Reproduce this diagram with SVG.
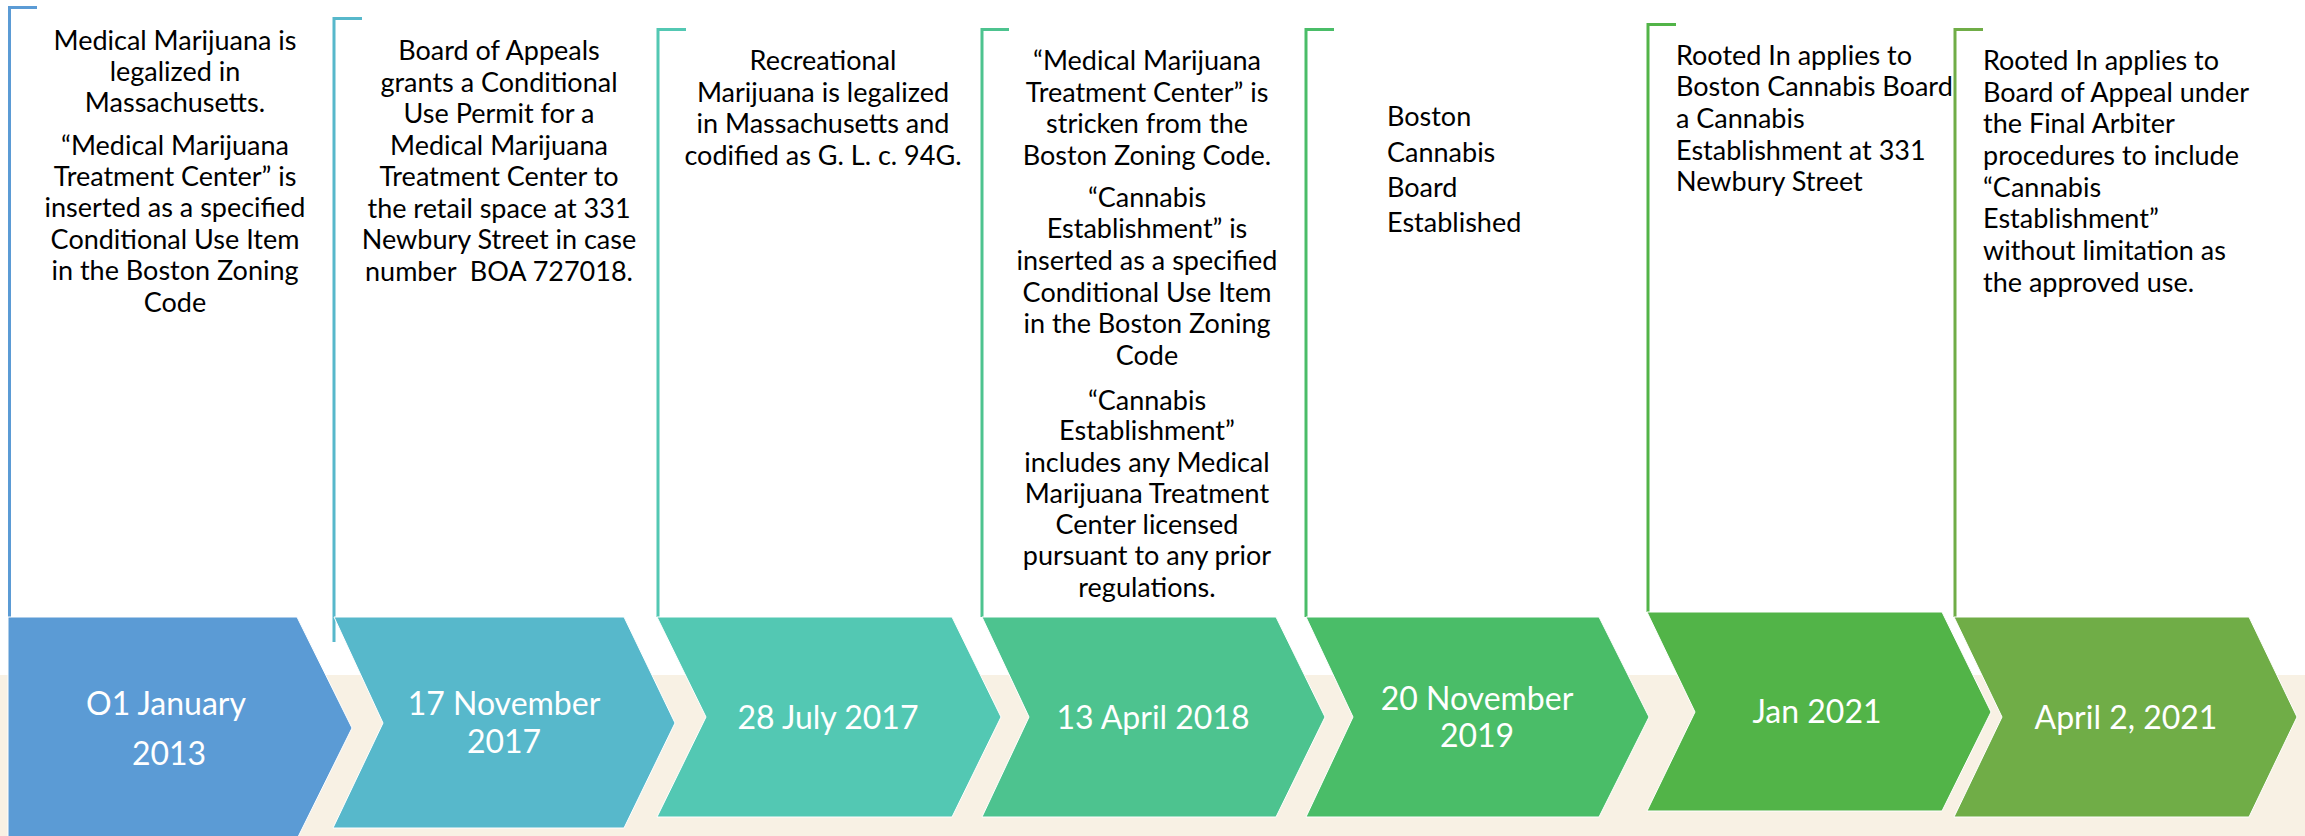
<svg xmlns="http://www.w3.org/2000/svg" width="2305" height="836" viewBox="0 0 2305 836">
<style>
.bk{fill:none;stroke-width:3}
.ch{stroke:#ffffff;stroke-width:1}
.t{font-family:Lato,"Liberation Sans",sans-serif;font-size:27px;fill:#000}
.c{text-anchor:middle}
.d{font-family:Lato,"Liberation Sans",sans-serif;font-size:32px;fill:#fff;text-anchor:middle}
</style>
<rect x="0" y="0" width="2305" height="836" fill="#fff"/>
<rect x="0" y="675" width="2305" height="161" fill="#F8F1E4"/>
<g id="node1">
<path class="bk" stroke="#5B9BD5" d="M37,7.5 H9.5 V617"/>
<path class="ch" fill="#5B9BD5" d="M8,617 L297,617 L352,728 L297,839 L8,839 Z"/>
<text class="t c" x="175"><tspan x="175" y="50">Medical Marijuana is</tspan><tspan x="175" y="81">legalized in</tspan><tspan x="175" y="112">Massachusetts.</tspan><tspan x="175" y="155">“Medical Marijuana</tspan><tspan x="175" y="186">Treatment Center” is</tspan><tspan x="175" y="217">inserted as a specified</tspan><tspan x="175" y="249">Conditional Use Item</tspan><tspan x="175" y="280">in the Boston Zoning</tspan><tspan x="175" y="312">Code</tspan></text>
<text class="d"><tspan x="166" y="715">O1 January</tspan><tspan x="169" y="765">2013</tspan></text>
</g>
<g id="node2">
<path class="bk" stroke="#57B8CB" d="M362,18.5 H334 V642"/>
<path class="ch" fill="#57B8CB" d="M334,617 L624,617 L675,723 L624,828 L333,828 L383,723 Z"/>
<text class="t c"><tspan x="499" y="60">Board of Appeals</tspan><tspan x="499" y="92">grants a Conditional</tspan><tspan x="499" y="123">Use Permit for a</tspan><tspan x="499" y="155">Medical Marijuana</tspan><tspan x="499" y="186">Treatment Center to</tspan><tspan x="499" y="218">the retail space at 331</tspan><tspan x="499" y="249">Newbury Street in case</tspan><tspan x="499" y="281" xml:space="preserve">number  BOA 727018.</tspan></text>
<text class="d"><tspan x="504" y="715">17 November</tspan><tspan x="504" y="753">2017</tspan></text>
</g>
<g id="node3">
<path class="bk" stroke="#53C8B3" d="M686,29.5 H658 V617"/>
<path class="ch" fill="#53C8B3" d="M657,617 L952,617 L1001,717 L952,817 L657,817 L706,717 Z"/>
<text class="t c"><tspan x="823" y="70">Recreational</tspan><tspan x="823" y="102">Marijuana is legalized</tspan><tspan x="823" y="133">in Massachusetts and</tspan><tspan x="823" y="165">codified as G. L. c. 94G.</tspan></text>
<text class="d"><tspan x="828" y="729">28 July 2017</tspan></text>
</g>
<g id="node4">
<path class="bk" stroke="#4DC38F" d="M1009,29.5 H982 V617"/>
<path class="ch" fill="#4DC38F" d="M982,617 L1276,617 L1325,717 L1276,817 L982,817 L1029,717 Z"/>
<text class="t c"><tspan x="1147" y="70">“Medical Marijuana</tspan><tspan x="1147" y="102">Treatment Center” is</tspan><tspan x="1147" y="133">stricken from the</tspan><tspan x="1147" y="165">Boston Zoning Code.</tspan><tspan x="1147" y="207">“Cannabis</tspan><tspan x="1147" y="238">Establishment” is</tspan><tspan x="1147" y="270">inserted as a specified</tspan><tspan x="1147" y="302">Conditional Use Item</tspan><tspan x="1147" y="333">in the Boston Zoning</tspan><tspan x="1147" y="365">Code</tspan><tspan x="1147" y="410">“Cannabis</tspan><tspan x="1147" y="440">Establishment”</tspan><tspan x="1147" y="472">includes any Medical</tspan><tspan x="1147" y="503">Marijuana Treatment</tspan><tspan x="1147" y="534">Center licensed</tspan><tspan x="1147" y="565">pursuant to any prior</tspan><tspan x="1147" y="597">regulations.</tspan></text>
<text class="d"><tspan x="1153" y="729">13 April 2018</tspan></text>
</g>
<g id="node5">
<path class="bk" stroke="#4ABD68" d="M1334,29.5 H1306 V617"/>
<path class="ch" fill="#4ABD68" d="M1306,617 L1599,617 L1649,717 L1599,817 L1306,817 L1353,717 Z"/>
<text class="t"><tspan x="1387" y="126">Boston</tspan><tspan x="1387" y="162">Cannabis</tspan><tspan x="1387" y="197">Board</tspan><tspan x="1387" y="232">Established</tspan></text>
<text class="d"><tspan x="1477" y="710">20 November</tspan><tspan x="1477" y="747">2019</tspan></text>
</g>
<g id="node6">
<path class="bk" stroke="#52B448" d="M1676,24.5 H1648 V612"/>
<path class="ch" fill="#52B448" d="M1647,612 L1942,612 L1991,712 L1942,811 L1647,811 L1695,712 Z"/>
<text class="t"><tspan x="1676" y="65">Rooted In applies to</tspan><tspan x="1676" y="96">Boston Cannabis Board</tspan><tspan x="1676" y="128">a Cannabis</tspan><tspan x="1676" y="160">Establishment at 331</tspan><tspan x="1676" y="191">Newbury Street</tspan></text>
<text class="d"><tspan x="1817" y="723">Jan 2021</tspan></text>
</g>
<g id="node7">
<path class="bk" stroke="#70AD47" d="M1983,29.5 H1955 V617"/>
<path class="ch" fill="#70AD47" d="M1954,617 L2249,617 L2297,717 L2249,817 L1954,817 L2002,717 Z"/>
<text class="t"><tspan x="1983" y="70">Rooted In applies to</tspan><tspan x="1983" y="102">Board of Appeal under</tspan><tspan x="1983" y="133">the Final Arbiter</tspan><tspan x="1983" y="165">procedures to include</tspan><tspan x="1983" y="197">“Cannabis</tspan><tspan x="1983" y="228">Establishment”</tspan><tspan x="1983" y="260">without limitation as</tspan><tspan x="1983" y="292">the approved use.</tspan></text>
<text class="d"><tspan x="2126" y="729">April 2, 2021</tspan></text>
</g>
</svg>
